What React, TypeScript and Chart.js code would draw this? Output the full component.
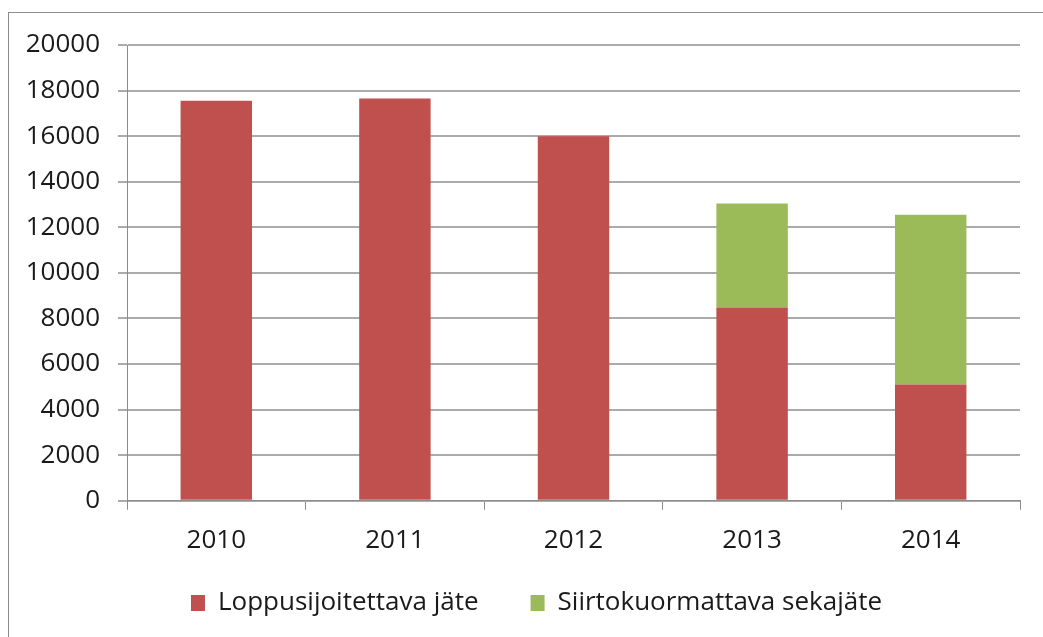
import React, { useEffect, useRef } from "react";
import { Chart, registerables } from "chart.js";

Chart.register(...registerables);

const categories = ["2010", "2011", "2012", "2013", "2014"];
const loppusijoitettava = [17550, 17650, 16000, 8480, 5100];
const siirtokuormattava = [null, null, null, 4570, 7450];
const seriesNames = ["Loppusijoitettava jäte", "Siirtokuormattava sekajäte"];
const yMax = 20000;
const yStep = 2000;

const FONT = "'Open Sans', 'Liberation Sans', sans-serif";

const legendShift = {
  id: "legendShift",
  afterLayout(chart: any) {
    const lg = chart.legend;
    if (!lg) return;
    lg.top -= 33;
    lg.bottom -= 33;
    lg.left += 13;
    lg.right += 13;
  },
};

export default function App() {
  const ref = useRef<HTMLCanvasElement | null>(null);

  useEffect(() => {
    if (!ref.current) return;
    const chart = new Chart(ref.current, {
      type: "bar",
      data: {
        labels: categories,
        datasets: [
          {
            label: seriesNames[0],
            data: loppusijoitettava,
            backgroundColor: "#C0504D",
            barPercentage: 0.4,
            categoryPercentage: 1,
          },
          {
            label: seriesNames[1],
            data: siirtokuormattava as any,
            backgroundColor: "#9BBB59",
            barPercentage: 0.4,
            categoryPercentage: 1,
          },
        ],
      },
      plugins: [legendShift],
      options: {
        responsive: false,
        animation: false,
        layout: { padding: { left: 27, right: 23, top: 45, bottom: -22 } },
        plugins: {
          tooltip: { enabled: false },
          legend: {
            position: "bottom",
            labels: {
              boxWidth: 14,
              boxHeight: 16,
              padding: 52,
              color: "#1a1a1a",
              font: { family: FONT, size: 26 },
            },
          },
        },
        scales: {
          x: {
            stacked: true,
            grid: {
              drawOnChartArea: false,
              drawTicks: true,
              tickLength: 9,
              color: "#8c8c8c",
              lineWidth: 1,
            },
            border: { color: "#8c8c8c", width: 1 },
            ticks: {
              padding: 15,
              color: "#1a1a1a",
              font: { family: FONT, size: 26 },
            },
          },
          y: {
            stacked: true,
            min: 0,
            max: yMax,
            afterFit: (scale: any) => {
              scale.width = 100;
            },
            grid: {
              color: "#ababab",
              lineWidth: 2,
              tickLength: 9,
            },
            border: { color: "#8c8c8c", width: 1 },
            ticks: {
              stepSize: yStep,
              padding: 18,
              color: "#1a1a1a",
              font: { family: FONT, size: 26 },
              callback: (v: any) => String(v),
            },
          },
        },
      },
    });
    return () => chart.destroy();
  }, []);

  return (
    <div
      style={{
        position: "fixed",
        left: 0,
        top: 0,
        width: 1043,
        height: 637,
        overflow: "hidden",
        background: "#fff",
      }}
    >
      <div
        style={{
          position: "absolute",
          left: 8,
          top: 12,
          width: 1200,
          height: 800,
          border: "1px solid #8c8c8c",
        }}
      />
      <canvas
        ref={ref}
        width={1043}
        height={637}
        style={{ position: "absolute", left: 0, top: 0 }}
      />
    </div>
  );
}
